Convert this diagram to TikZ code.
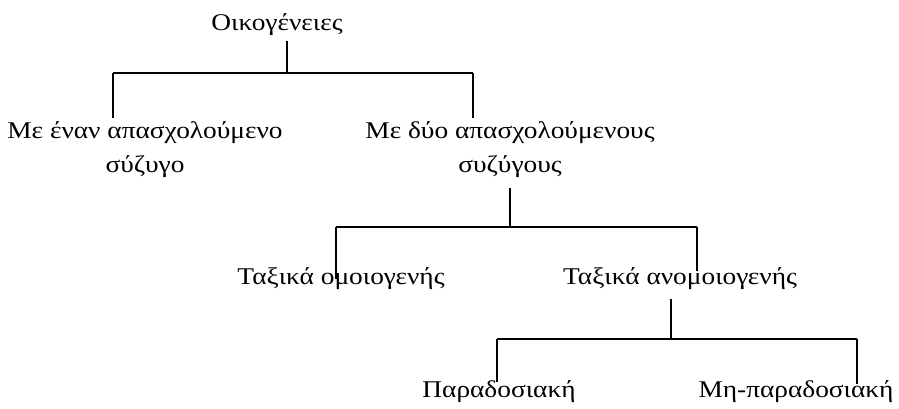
\documentclass[tikz,border=0pt]{standalone}
\usepackage{fontspec}
\setmainfont{Liberation Serif}[FakeStretch=1.14]
\usetikzlibrary{positioning}

\begin{document}
\begin{tikzpicture}[x=0.75pt, y=-0.75pt,
    term/.style={anchor=base, align=center, inner sep=2pt, font=\fontsize{18}{25.5}\selectfont},
    tie/.style={line width=1.4pt}]
    \useasboundingbox (0,0) rectangle (899,408);

    % Types of families
    \node[term] (fam) at (277,30) {Οικογένειες};
    \node[term] (one) at (145,172) {Με έναν απασχολούμενο\\σύζυγο};
    \node[term] (two) at (510,172) {Με δύο απασχολούμενους\\συζύγους};
    \node[term] (homog) at (341,284) {Ταξικά ομοιογενής};
    \node[term] (heter) at (680,284) {Ταξικά ανομοιογενής};
    \node[term] (trad) at (499,397) {Παραδοσιακή};
    \node[term] (nontrad) at (796,397) {Μη-παραδοσιακή};

    % Forks
    \coordinate (fam-mid) at (287,73);
    \coordinate (fam-l) at (113,73);
    \coordinate (fam-r) at (473,73);
    \coordinate (two-mid) at (510,227);
    \coordinate (two-l) at (336,227);
    \coordinate (two-r) at (697,227);
    \coordinate (het-mid) at (671,339);
    \coordinate (het-l) at (497,339);
    \coordinate (het-r) at (857,339);

    \draw[tie, shorten <=2pt] (fam.south -| fam-mid) -- (fam-mid);
    \draw[tie] (fam-l) -- (fam-r);
    \draw[tie] (fam-l) -- (one.north -| fam-l);
    \draw[tie] (fam-r) -- (two.north -| fam-r);

    \draw[tie, shorten <=6pt] (two.south -| two-mid) -- (two-mid);
    \draw[tie] (two-l) -- (two-r);
    \draw[tie, shorten >=-11pt] (two-l) -- (homog.north -| two-l);
    \draw[tie, shorten >=-5pt] (two-r) -- (heter.north -| two-r);

    \draw[tie, shorten <=5pt] (heter.south -| het-mid) -- (het-mid);
    \draw[tie] (het-l) -- (het-r);
    \draw[tie, shorten >=-4pt] (het-l) -- (trad.north -| het-l);
    \draw[tie, shorten >=-5pt] (het-r) -- (nontrad.north -| het-r);
\end{tikzpicture}
\end{document}
